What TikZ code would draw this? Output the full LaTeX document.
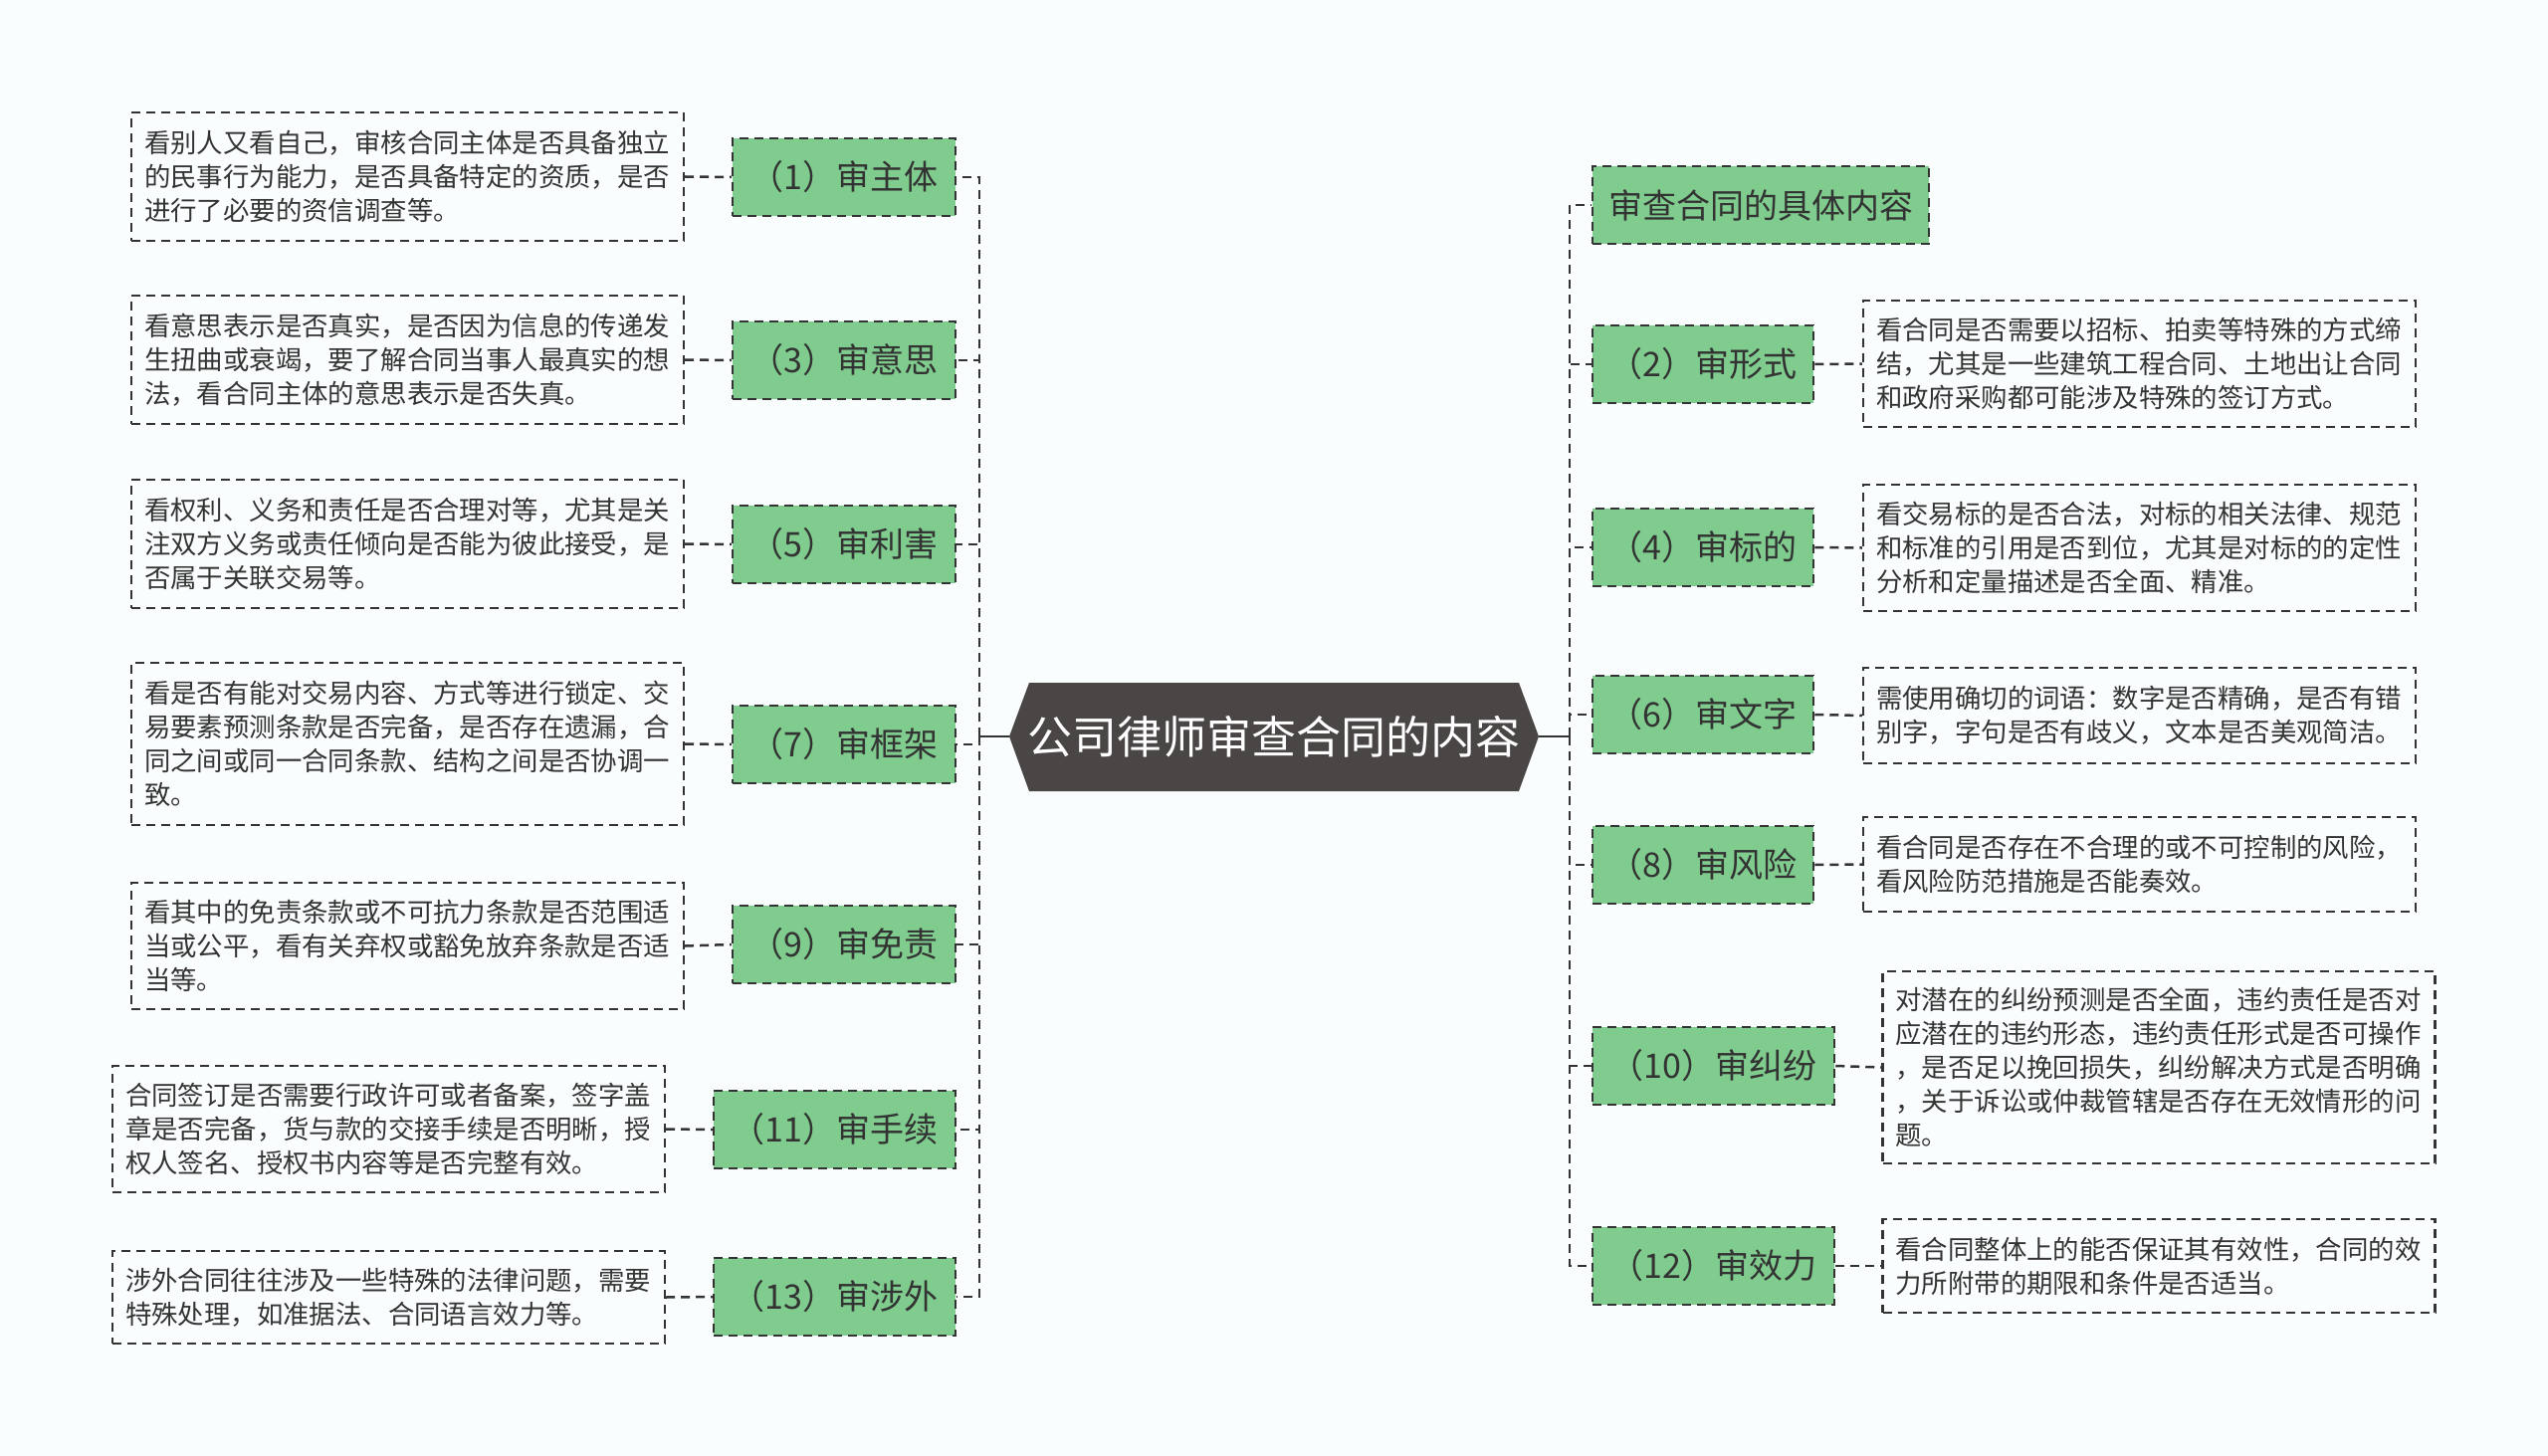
\documentclass[tikz,border=0pt]{standalone}
\usepackage{fontspec}
\setmainfont{Noto Sans CJK SC}
\definecolor{bg}{HTML}{FAFDFE}
\definecolor{grn}{HTML}{7FCC8E}
\definecolor{lineclr}{HTML}{333333}
\definecolor{txt}{HTML}{333333}
\definecolor{rootfill}{HTML}{4A4646}
\begin{document}
\begin{tikzpicture}[x=1pt,y=-1pt,
  conn/.style={draw=lineclr, line width=2.5pt, dash pattern=on 9pt off 6pt},
  lvl/.style={draw=lineclr, line width=2.5pt, dash pattern=on 9pt off 6pt, fill=grn,
    minimum height=78pt, inner sep=0pt, text=txt, font=\fontsize{34}{40}\selectfont},
  desc/.style={draw=lineclr, line width=2.2pt, dash pattern=on 9pt off 6pt,
    text=txt, align=left, text width=529pt, inner xsep=13pt, inner ysep=0pt,
    minimum width=555pt, font=\fontsize{26.4}{34}\selectfont}
]
\fill[bg] (0,0) rectangle (2560,1463);
\useasboundingbox (0,0) rectangle (2560,1463);

% root
\fill[rootfill] (1014,740) -- (1034,686) -- (1526,686) -- (1546,740) -- (1526,795) -- (1034,795) -- cycle;
\node[text=white, font=\fontsize{45}{50}\selectfont, inner sep=0pt] (root) at (1280,740) {公司律师审查合同的内容};
\coordinate (rootW) at (1014,740);
\coordinate (rootE) at (1546,740);
\coordinate (LT) at (984,740);
\coordinate (RT) at (1577,740);

% left level-1
\node[lvl, minimum width=224pt] (l1) at (848,178) {（1）审主体};
\node[lvl, minimum width=224pt] (l3) at (848,362) {（3）审意思};
\node[lvl, minimum width=224pt] (l5) at (848,547) {（5）审利害};
\node[lvl, minimum width=224pt] (l7) at (848,748) {（7）审框架};
\node[lvl, minimum width=224pt] (l9) at (848,949) {（9）审免责};
\node[lvl, minimum width=243pt] (l11) at (838.5,1135) {（11）审手续};
\node[lvl, minimum width=243pt] (l13) at (838.5,1303) {（13）审涉外};

% right level-1
\node[lvl, minimum width=338pt] (r0) at (1769,206) {审查合同的具体内容};
\node[lvl, minimum width=222pt] (r2) at (1711,366) {（2）审形式};
\node[lvl, minimum width=222pt] (r4) at (1711,550) {（4）审标的};
\node[lvl, minimum width=222pt] (r6) at (1711,718) {（6）审文字};
\node[lvl, minimum width=222pt] (r8) at (1711,869) {（8）审风险};
\node[lvl, minimum width=243pt] (r10) at (1721.5,1071) {（10）审纠纷};
\node[lvl, minimum width=243pt] (r12) at (1721.5,1272) {（12）审效力};

% left descriptions
\node[desc, minimum height=129pt] (d1) at (409.5,177.5) {看别人又看自己，审核合同主体是否具备独立\\的民事行为能力，是否具备特定的资质，是否\\进行了必要的资信调查等。};
\node[desc, minimum height=129pt] (d3) at (409.5,361.5) {看意思表示是否真实，是否因为信息的传递发\\生扭曲或衰竭，要了解合同当事人最真实的想\\法，看合同主体的意思表示是否失真。};
\node[desc, minimum height=129pt] (d5) at (409.5,546.5) {看权利、义务和责任是否合理对等，尤其是关\\注双方义务或责任倾向是否能为彼此接受，是\\否属于关联交易等。};
\node[desc, minimum height=163pt] (d7) at (409.5,747.5) {看是否有能对交易内容、方式等进行锁定、交\\易要素预测条款是否完备，是否存在遗漏，合\\同之间或同一合同条款、结构之间是否协调一\\致。};
\node[desc, minimum height=127pt] (d9) at (409.5,950.5) {看其中的免责条款或不可抗力条款是否范围适\\当或公平，看有关弃权或豁免放弃条款是否适\\当等。};
\node[desc, minimum height=127pt] (d11) at (390.5,1134.5) {合同签订是否需要行政许可或者备案，签字盖\\章是否完备，货与款的交接手续是否明晰，授\\权人签名、授权书内容等是否完整有效。};
\node[desc, minimum height=93pt] (d13) at (390.5,1303.5) {涉外合同往往涉及一些特殊的法律问题，需要\\特殊处理，如准据法、合同语言效力等。};

% right descriptions
\node[desc, minimum height=127pt] (e2) at (2149.5,365.5) {看合同是否需要以招标、拍卖等特殊的方式缔\\结，尤其是一些建筑工程合同、土地出让合同\\和政府采购都可能涉及特殊的签订方式。};
\node[desc, minimum height=127pt] (e4) at (2149.5,550.5) {看交易标的是否合法，对标的相关法律、规范\\和标准的引用是否到位，尤其是对标的的定性\\分析和定量描述是否全面、精准。};
\node[desc, minimum height=96pt] (e6) at (2149.5,719) {需使用确切的词语：数字是否精确，是否有错\\别字，字句是否有歧义，文本是否美观简洁。};
\node[desc, minimum height=95pt] (e8) at (2149.5,868.5) {看合同是否存在不合理的或不可控制的风险，\\看风险防范措施是否能奏效。};
\node[desc, minimum height=193pt] (e10) at (2169,1072.5) {对潜在的纠纷预测是否全面，违约责任是否对\\应潜在的违约形态，违约责任形式是否可操作\\，是否足以挽回损失，纠纷解决方式是否明确\\，关于诉讼或仲裁管辖是否存在无效情形的问\\题。};
\node[desc, minimum height=94pt] (e12) at (2169,1272) {看合同整体上的能否保证其有效性，合同的效\\力所附带的期限和条件是否适当。};

% connectors root -> trunk
\draw[lineclr, line width=2.5pt] (rootW) -- (LT);
\draw[lineclr, line width=2.5pt] (rootE) -- (RT);
\foreach \n in {l1,l3,l5,l7,l9,l11,l13} \draw[conn] (LT) |- (\n.east);
\foreach \n in {r0,r2,r4,r6,r8,r10,r12} \draw[conn] (RT) |- (\n.west);

% descriptions -> level-1
\draw[conn] (d1.east) -- (l1.west);
\draw[conn] (d3.east) -- (l3.west);
\draw[conn] (d5.east) -- (l5.west);
\draw[conn] (d7.east) -- (l7.west);
\draw[conn] (d9.east) -- (l9.west);
\draw[conn] (d11.east) -- (l11.west);
\draw[conn] (d13.east) -- (l13.west);
\draw[conn] (r2.east) -- (e2.west);
\draw[conn] (r4.east) -- (e4.west);
\draw[conn] (r6.east) -- (e6.west);
\draw[conn] (r8.east) -- (e8.west);
\draw[conn] (r10.east) -- (e10.west);
\draw[conn] (r12.east) -- (e12.west);
\end{tikzpicture}
\end{document}
